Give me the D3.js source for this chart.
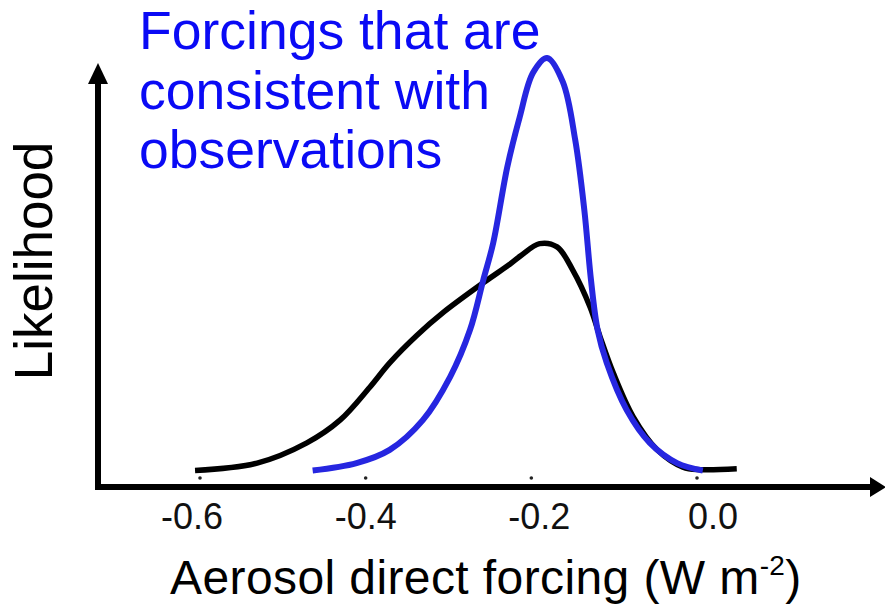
<!DOCTYPE html>
<html>
<head>
<meta charset="utf-8">
<script src="https://cdn.jsdelivr.net/npm/d3@7"></script>
<style>
  html, body { margin: 0; padding: 0; background: #fff; }
  svg { display: block; font-family: "Liberation Sans", Arial, sans-serif; }
</style>
</head>
<body>
<svg id="chart" width="885" height="605"></svg>
<script>
// Prior distribution of aerosol direct forcing (black)
const priorForcing    = [-0.606, -0.531, -0.471, -0.431, -0.395, -0.371, -0.338, -0.307, -0.258, -0.226, -0.212, -0.190, -0.169, -0.150, -0.129, -0.117, -0.101, -0.077, -0.048, -0.017, 0.004, 0.048];
const priorLikelihood = [0.000, 0.018, 0.067, 0.122, 0.202, 0.261, 0.328, 0.382, 0.455, 0.500, 0.522, 0.550, 0.542, 0.486, 0.396, 0.324, 0.236, 0.130, 0.050, 0.008, 0.002, 0.004];

// Forcings consistent with observations (blue)
const posteriorForcing    = [-0.464, -0.411, -0.371, -0.331, -0.298, -0.274, -0.258, -0.246, -0.229, -0.214, -0.198, -0.181, -0.162, -0.147, -0.136, -0.128, -0.120, -0.109, -0.085, -0.057, -0.024, 0.007];
const posteriorLikelihood = [0.000, 0.018, 0.050, 0.122, 0.227, 0.341, 0.462, 0.552, 0.736, 0.857, 0.964, 1.000, 0.942, 0.801, 0.631, 0.462, 0.341, 0.261, 0.147, 0.067, 0.018, 0.000];

const tickValues = [-0.6, -0.4, -0.2, 0.0];
const tickLabels = ["-0.6", "-0.4", "-0.2", "0.0"];

const svg = d3.select("#chart");

const x = d3.scaleLinear().domain([-0.6, 0]).range([200, 697]);
// tick labels sit on a slightly wider spacing than the tick dots
const xLabel = d3.scaleLinear().domain([-0.6, 0]).range([192, 713]);
const y = d3.scaleLinear().domain([-0.04, 1]).range([487, 58]);

const axisColor = "#000";
const originX = 98, originY = y(-0.04);

// axes with arrowheads
svg.append("line")
  .attr("x1", originX).attr("y1", originY + 3)
  .attr("x2", originX).attr("y2", 82)
  .attr("stroke", axisColor).attr("stroke-width", 6);
svg.append("path")
  .attr("d", `M${originX - 10},84 L${originX + 10},84 L${originX},63 Z`)
  .attr("fill", axisColor);

svg.append("line")
  .attr("x1", originX - 3).attr("y1", originY)
  .attr("x2", 870).attr("y2", originY)
  .attr("stroke", axisColor).attr("stroke-width", 6);
svg.append("path")
  .attr("d", `M870,${originY - 10} L870,${originY + 10} L886,${originY} Z`)
  .attr("fill", axisColor);

// tick dots
svg.selectAll("circle.tick")
  .data(tickValues)
  .join("circle")
  .attr("class", "tick")
  .attr("cx", d => x(d))
  .attr("cy", originY - 9)
  .attr("r", 1.8)
  .attr("fill", "#222");

// tick labels
svg.selectAll("text.tick")
  .data(tickValues)
  .join("text")
  .attr("class", "tick")
  .attr("x", d => xLabel(d))
  .attr("y", 529)
  .attr("text-anchor", "middle")
  .attr("font-size", 36)
  .attr("fill", "#111")
  .text((d, i) => tickLabels[i]);

// curves
const line = d3.line()
  .x(d => x(d[0]))
  .y(d => y(d[1]))
  .curve(d3.curveCatmullRom.alpha(0.5));

const prior = d3.zip(priorForcing, priorLikelihood);
const posterior = d3.zip(posteriorForcing, posteriorLikelihood);

svg.append("path")
  .datum(prior)
  .attr("d", line)
  .attr("fill", "none")
  .attr("stroke", "#000")
  .attr("stroke-width", 5.5)
  .attr("stroke-linejoin", "round")
  .attr("stroke-linecap", "butt");

svg.append("path")
  .datum(posterior)
  .attr("d", line)
  .attr("fill", "none")
  .attr("stroke", "#2626e0")
  .attr("stroke-width", 6)
  .attr("stroke-linejoin", "round");

// axis titles
svg.append("text")
  .attr("transform", "translate(52,261) rotate(-90)")
  .attr("text-anchor", "middle")
  .attr("font-size", 53)
  .attr("fill", "#000")
  .text("Likelihood");

const xt = svg.append("text")
  .attr("x", 170)
  .attr("y", 594)
  .attr("font-size", 48)
  .attr("letter-spacing", 0.4)
  .attr("fill", "#000");
xt.append("tspan").text("Aerosol direct forcing (W m");
xt.append("tspan").attr("font-size", 28).attr("dy", -19).text("-2");
xt.append("tspan").attr("dy", 19).text(")");

// annotation
const note = svg.append("text")
  .attr("font-size", 53.5)
  .attr("fill", "#0a0af5");
["Forcings that are", "consistent with", "observations"].forEach((t, i) => {
  note.append("tspan").attr("x", 139).attr("y", 49 + i * 59.5).text(t);
});
</script>
</body>
</html>
